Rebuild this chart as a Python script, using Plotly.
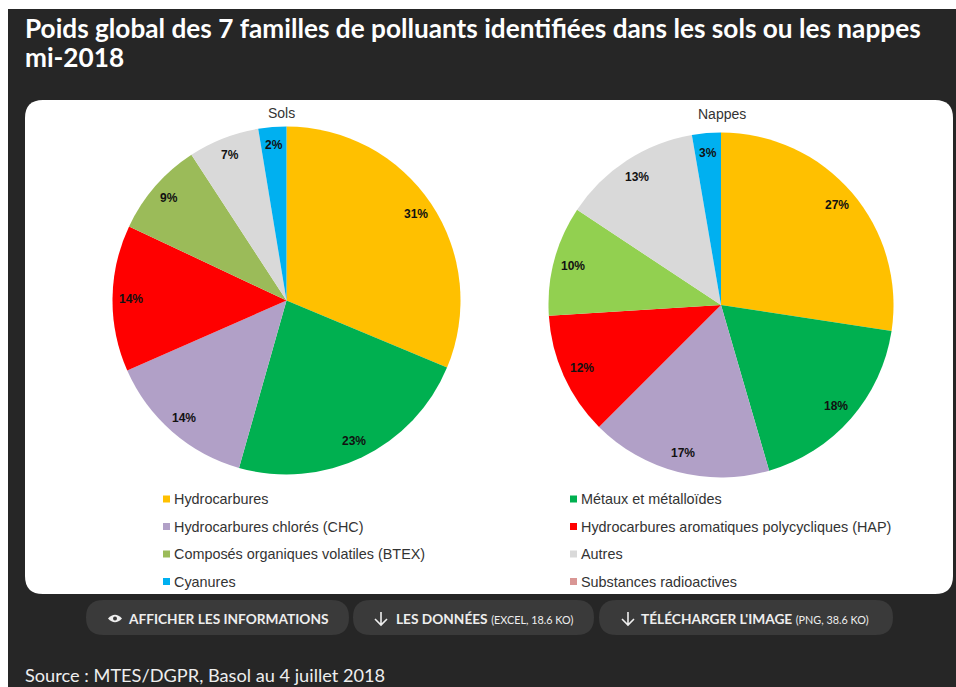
import math
import plotly.graph_objects as go

W, H = 956, 687
categories = ["Hydrocarbures", "Métaux et métalloïdes", "Hydrocarbures chlorés (CHC)",
              "Hydrocarbures aromatiques polycycliques (HAP)", "Composés organiques volatiles (BTEX)",
              "Autres", "Cyanures", "Substances radioactives"]
sols_values = [31.3, 23.1, 14.0, 13.6, 8.8, 6.6, 2.6, 0]
sols_labels = ["31%", "23%", "14%", "14%", "9%", "7%", "2%", ""]
nappes_values = [27.4, 18.1, 17.0, 11.5, 10.3, 13.0, 2.7, 0]
nappes_labels = ["27%", "18%", "17%", "12%", "10%", "13%", "3%", ""]
sols_colors = ["#FFC000", "#00B050", "#B1A0C7", "#FF0000", "#9BBB59", "#D9D9D9", "#00B0F0", "#D99694"]
nappes_colors = ["#FFC000", "#00B050", "#B1A0C7", "#FF0000", "#92D050", "#D9D9D9", "#00B0F0", "#D99694"]
title_lines = ["Poids global des 7 familles de polluants identifiées dans les sols ou les nappes", "mi-2018"]
source = "Source : MTES/DGPR, Basol au 4 juillet 2018"
buttons = [("AFFICHER LES INFORMATIONS", ""), ("LES DONNÉES", "(EXCEL, 18.6 KO)"),
           ("TÉLÉCHARGER L'IMAGE", "(PNG, 38.6 KO)")]

px = lambda x: x / W
py = lambda y: 1 - y / H

def rrect(x0, y0, x1, y1, r):
    p = lambda x, y: f"{px(x):.5f},{py(y):.5f}"
    return (f"M{p(x0+r,y0)} L{p(x1-r,y0)} Q{p(x1,y0)} {p(x1,y0+r)} L{p(x1,y1-r)} Q{p(x1,y1)} {p(x1-r,y1)} "
            f"L{p(x0+r,y1)} Q{p(x0,y1)} {p(x0,y1-r)} L{p(x0,y0+r)} Q{p(x0,y0)} {p(x0+r,y0)} Z")

def pie(name, vals, labels, colors, cx, cy, r):
    return go.Pie(labels=categories, values=vals, text=labels, textinfo="none", name=name,
                  marker=dict(colors=colors, line=dict(width=0)), sort=False, direction="clockwise",
                  rotation=0, showlegend=False, hoverinfo="label+text",
                  domain=dict(x=[px(cx-r), px(cx+r)], y=[py(cy+r), py(cy-r)]))

fig = go.Figure([
    pie("Sols", sols_values, sols_labels, sols_colors, 286.5, 300.5, 174),
    pie("Nappes", nappes_values, nappes_labels, nappes_colors, 721, 305, 172.5),
])

shapes = [
    dict(type="rect", xref="paper", yref="paper", x0=px(8), x1=1, y0=0, y1=py(9), fillcolor="#262626", line_width=0, layer="below"),
    dict(type="path", xref="paper", yref="paper", path=rrect(25, 100, 953, 594, 18), fillcolor="#FFFFFF", line_width=0, layer="below"),
]
for x0, x1 in [(86, 349), (353, 594), (599, 893)]:
    shapes.append(dict(type="path", xref="paper", yref="paper", path=rrect(x0, 600, x1, 635, 17.5),
                       fillcolor="#3A3A3A", line_width=0, layer="below"))

def note(x, y, text, size, color, family, anchor="left"):
    return dict(xref="paper", yref="paper", x=px(x), y=py(y), text=text, showarrow=False, xanchor=anchor,
                yanchor="middle", font=dict(size=size, color=color, family=family))

ann = [
    note(23, 28, f"<b>{title_lines[0]}</b>", 26.2, "#FFFFFF", "Lato"),
    note(23, 57, f"<b>{title_lines[1]}</b>", 26.2, "#FFFFFF", "Lato"),
    note(281, 113, "Sols", 14, "#333", "Liberation Sans", "center"),
    note(722, 114, "Nappes", 14, "#333", "Liberation Sans", "center"),
    note(23, 675, source, 18.2, "#EEEEEE", "Lato"),
]

# pourcentages placés d'après les valeurs, à environ 90 % du rayon
def slice_labels(vals, labels, cx, cy, r):
    total = sum(vals)
    acc = 0
    for v, t in zip(vals, labels):
        mid = (acc + v / 2) / total * 2 * math.pi
        acc += v
        if t:
            ann.append(note(cx + r * math.sin(mid), cy - r * math.cos(mid), f"<b>{t}</b>", 12, "#111", "Liberation Sans", "center"))

slice_labels(sols_values, sols_labels, 286.5, 300.5, 156)
slice_labels(nappes_values, nappes_labels, 721, 305, 153)

legend_order = [0, 2, 4, 6, 1, 3, 5, 7]
for k, i in enumerate(legend_order):
    col = k // 4
    row = k % 4
    y = 499 + 27.5 * row
    xs = 163 if col == 0 else 570
    shapes.append(dict(type="rect", xref="paper", yref="paper", x0=px(xs), x1=px(xs + 7), y0=py(y + 3.5), y1=py(y - 3.5),
                       fillcolor=sols_colors[i], line_width=0))
    ann.append(note(xs + 9, y, categories[i], 14.4, "#333", "Liberation Sans"))

ann.append(note(126, 618, f"<b>{buttons[0][0]}</b>", 13.7, "#EEEEEE", "Lato"))
ann.append(note(394, 618, f"<b>{buttons[1][0]}</b> <span style='font-size:10.8px'>{buttons[1][1]}</span>", 13.7, "#EEEEEE", "Lato"))
ann.append(note(639, 618, f"<b>{buttons[2][0]}</b> <span style='font-size:10.8px'>{buttons[2][1]}</span>", 13.7, "#EEEEEE", "Lato"))
p = lambda x, y: f"{px(x):.5f},{py(y):.5f}"
for ax in (381, 628):
    shapes.append(dict(type="path", xref="paper", yref="paper",
                       path=f"M{p(ax,612)} L{p(ax,625)} M{p(ax-6,619)} L{p(ax,625)} L{p(ax+6,619)}",
                       line=dict(color="#EEEEEE", width=1.6)))
shapes.append(dict(type="path", xref="paper", yref="paper",
                   path=f"M{p(108,618.5)} Q{p(115,611)} {p(122,618.5)} Q{p(115,626)} {p(108,618.5)} Z",
                   fillcolor="#EEEEEE", line_width=0))
shapes.append(dict(type="circle", xref="paper", yref="paper", x0=px(113), x1=px(117), y0=py(620.5), y1=py(616.5),
                   fillcolor="#3A3A3A", line_width=0))

fig.update_layout(width=W, height=H, margin=dict(l=0, r=0, t=0, b=0), paper_bgcolor="#FFFFFF",
                  plot_bgcolor="#FFFFFF", shapes=shapes, annotations=ann)
fig.write_html("out.html", post_script="document.body.style.margin='0';", config={"displayModeBar": False})
